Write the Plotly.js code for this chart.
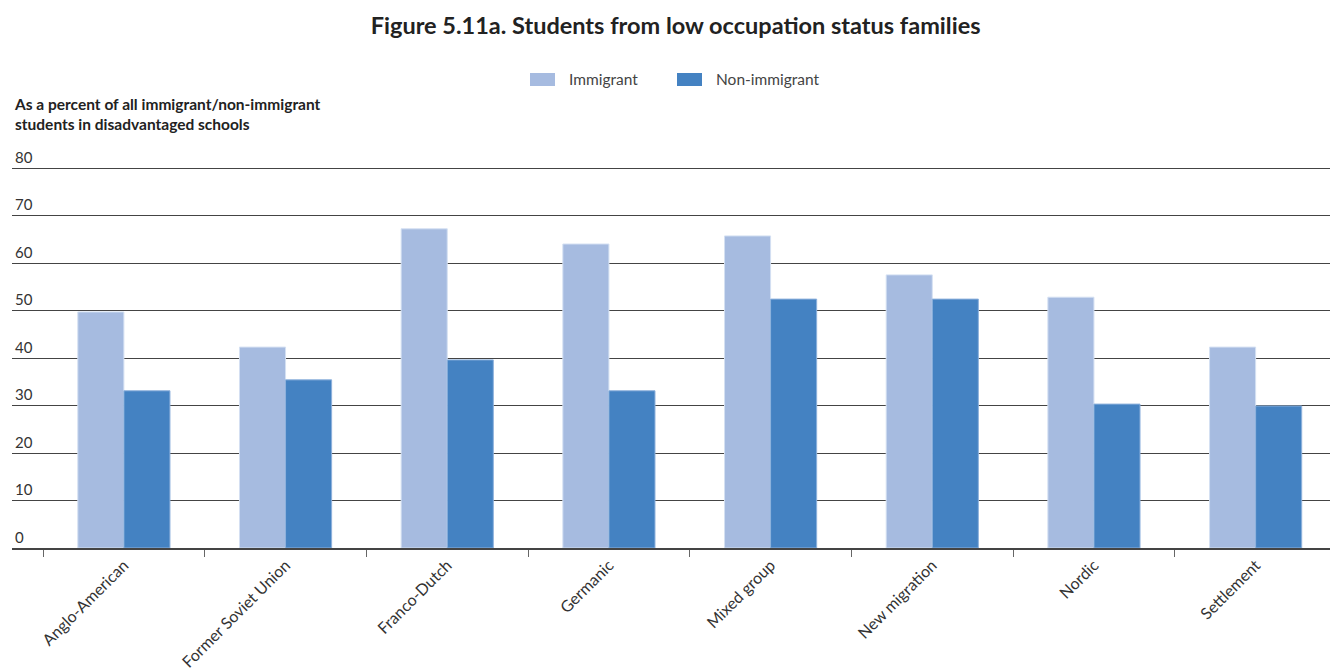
<!DOCTYPE html>
<html>
<head>
<meta charset="utf-8">
<script src="https://cdn.plot.ly/plotly-3.0.1.min.js"></script>
<style>html,body{margin:0;padding:0;background:#fff;}#chart{width:1330px;height:670px;}</style>
</head>
<body>
<div id="chart"></div>
<script>
const categories = ["Anglo-American", "Former Soviet Union", "Franco-Dutch", "Germanic", "Mixed group", "New migration", "Nordic", "Settlement"];
const immigrant = [49.7, 42.3, 67.2, 64.0, 65.7, 57.5, 52.8, 42.3];
const nonImmigrant = [33.1, 35.4, 39.6, 33.1, 52.4, 52.4, 30.3, 29.9];
const seriesNames = ["Immigrant", "Non-immigrant"];
const seriesColors = ["#A6BBE0", "#4482C2"];
const yTicks = [0, 10, 20, 30, 40, 50, 60, 70, 80];

const font = "Lato, 'Open Sans', sans-serif";
const traces = [
  {type: "bar", name: seriesNames[0], x: categories, y: immigrant, showlegend: false,
   marker: {color: seriesColors[0], line: {color: "#D4E0F2", width: 1}}},
  {type: "bar", name: seriesNames[1], x: categories, y: nonImmigrant, showlegend: false,
   marker: {color: seriesColors[1], line: {color: "#8DB1DC", width: 1}}}
];

// custom legend (wide swatches like the reference)
const T = 139, L = 12, W = 1318, B = 548, H = B - T;
const px = v => (v - L) / W;
const py = v => (B - v) / H;
const legendX = [530, 677];
const shapes = [], annotations = [];
seriesNames.forEach((n, i) => {
  shapes.push({type: "rect", xref: "paper", yref: "paper",
    x0: px(legendX[i]), x1: px(legendX[i] + 25), y0: py(86), y1: py(73),
    fillcolor: seriesColors[i], line: {width: 0}});
  annotations.push({text: n, xref: "paper", yref: "paper", x: px(legendX[i] + 37), y: py(79.5),
    xanchor: "left", yanchor: "middle", showarrow: false,
    font: {family: font, size: 15.5, color: "#444"}});
});
annotations.push({text: "<b>As a percent of all immigrant/non-immigrant<br>students in disadvantaged schools</b>",
  xref: "paper", yref: "paper", x: 0, y: py(135), xanchor: "left", yanchor: "bottom",
  align: "left", showarrow: false, font: {family: font, size: 15.5, color: "#222"}});

const layout = {
  width: 1330, height: 670,
  margin: {l: 12, r: 0, t: T, b: 670 - B},
  paper_bgcolor: "#fff", plot_bgcolor: "#fff",
  barmode: "group", bargap: 0.43, bargroupgap: 0,
  font: {family: font, color: "#333", size: 14},
  title: {text: "<b>Figure 5.11a. Students from low occupation status families</b>",
          x: 0.508, xanchor: "center", y: 0.962, yanchor: "middle",
          font: {family: font, size: 23.5, color: "#222"}},
  showlegend: false,
  xaxis: {type: "category", range: [-0.692, 7.46], tickson: "boundaries",
          ticks: "outside", ticklen: 7, tickcolor: "#666", tickwidth: 1,
          showline: true, linecolor: "#444", linewidth: 1.5,
          tickangle: -45, tickfont: {family: font, size: 16, color: "#333"},
          showgrid: false},
  yaxis: {range: [0, 80 * H / 380], tickvals: yTicks, ticktext: yTicks.map(String),
          ticklabelposition: "inside top", tickfont: {family: font, size: 15, color: "#333"},
          showgrid: true, gridcolor: "#444", gridwidth: 1.2, zeroline: false,
          showline: false, ticks: ""},
  shapes: shapes,
  annotations: annotations
};
Plotly.newPlot("chart", traces, layout, {displayModeBar: false, responsive: false});
</script>
</body>
</html>
